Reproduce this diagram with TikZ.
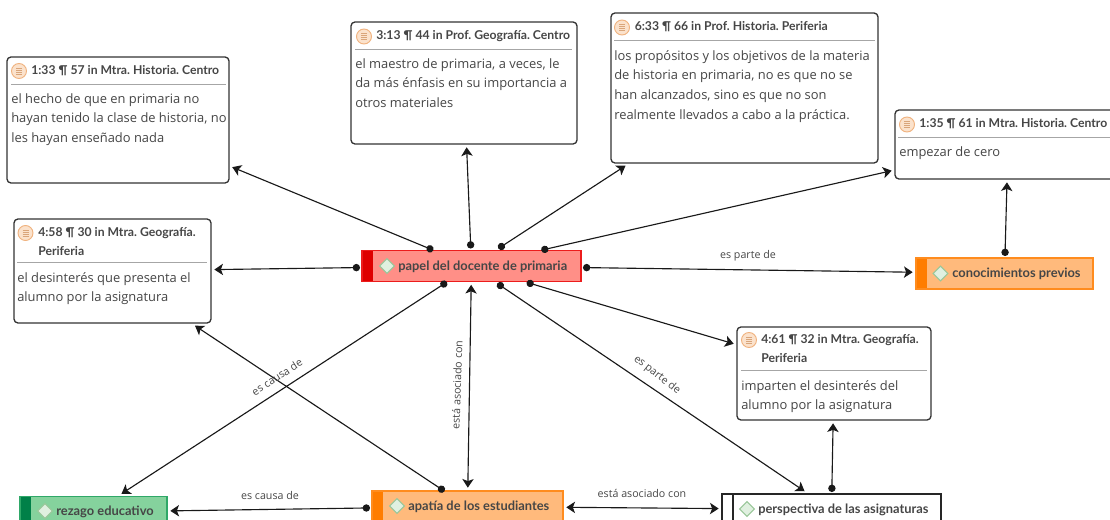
\documentclass[tikz,border=0pt]{standalone}
\usepackage{fontspec}
\setmainfont{Open Sans}
\newfontfamily\headfont{Lato}
\usepackage{tikz}
\usetikzlibrary{arrows.meta, shapes.geometric}

\definecolor{inkText}{HTML}{464646}
\definecolor{redFill}{HTML}{FF8F87}
\definecolor{redEdge}{HTML}{EC1C1C}
\definecolor{redBar}{HTML}{DE0000}
\definecolor{orangeFill}{HTML}{FFBA7C}
\definecolor{orangeEdge}{HTML}{FF8C1E}
\definecolor{orangeBar}{HTML}{FF7D00}
\definecolor{greenFill}{HTML}{85D29D}
\definecolor{greenEdge}{HTML}{2FA868}
\definecolor{greenBar}{HTML}{008048}
\definecolor{iconFill}{HTML}{FBE2CC}
\definecolor{iconEdge}{HTML}{F0B27E}
\definecolor{iconLine}{HTML}{D9A57A}

\def\px{0.75pt}

\tikzset{
    quotebox/.style={draw=black!80, line width=1pt, rounded corners=3pt, fill=white, outer sep=1.5pt},
    quotehead/.style={anchor=north west, inner sep=0pt, align=left, text=inkText,
        font=\frenchspacing\headfont\fontsize{9.15pt}{14.4pt}\selectfont\bfseries},
    quotebody/.style={anchor=north west, inner sep=0pt, align=left, text=inkText,
        font=\frenchspacing\fontsize{9.68pt}{14.8pt}\selectfont},
    headrule/.style={draw=black!35, line width=0.7pt},
    concept/.style n args={3}{draw=#2, fill=#1, line width=1pt, outer sep=1.5pt, minimum height=31*\px,
        path picture={\fill[#3] (path picture bounding box.north west) rectangle ([xshift=8pt]path picture bounding box.south west);}},
    conceptlabel/.style={anchor=west, inner sep=0pt, text=inkText, font=\headfont\fontsize{9.65pt}{11pt}\selectfont\bfseries},
    gem/.style={diamond, draw=green!45!black!40, fill=green!50!black!12, line width=0.8pt, inner sep=0pt, minimum size=11.5pt},
    link/.style={draw=black!90, line width=0.85pt, {Circle[length=5.5pt]}-{Stealth[length=6.5pt,width=8.5pt,inset=1.6pt]}, shorten >=1pt},
    linkboth/.style={draw=black!90, line width=0.85pt, {Stealth[length=6.5pt,width=8.5pt,inset=1.6pt]}-{Stealth[length=6.5pt,width=8.5pt,inset=1.6pt]}, shorten >=1pt, shorten <=1pt},
    linklabel/.style={inner sep=0pt, text=inkText, font=\fontsize{8pt}{9pt}\selectfont},
    docicon/.pic={
        \draw[draw=iconEdge, fill=iconFill, line width=0.7pt] (0,0) circle (7.5);
        \foreach \l in {-3,-1,1,3}
            \draw[draw=iconLine, line width=0.5pt] (-3,\l) -- (3,\l);
    }
}

\begin{document}
\begin{tikzpicture}[x=\px, y=-\px]

\clip (0,0) rectangle (1110,520);

%% Central code

\node[concept={redFill}{redEdge}{redBar}, minimum width=219*\px] (papel) at (471.5, 266) {};
\node[gem] (gemPapel) at (387, 266) {};
\node[conceptlabel] (txtPapel) at (398, 267) {papel del docente de primaria};

%% Quotation 1:33

\node[quotebox, minimum width=222*\px, minimum height=126*\px] (q133) at (118, 120) {};
\pic at (19, 71) {docicon};
\node[quotehead] (head133) at (31, 65) {1:33 ¶ 57 in Mtra. Historia. Centro};
\draw[headrule] (11, 84) -- (226, 84);
\node[quotebody] (body133) at (11, 93) {el hecho de que en primaria no\\hayan tenido la clase de historia, no\\les hayan enseñado nada};

%% Quotation 4:58

\node[quotebox, minimum width=197*\px, minimum height=104*\px] (q458) at (112.5, 271) {};
\pic at (25.5, 233) {docicon};
\node[quotehead] (head458) at (38, 227) {4:58 ¶ 30 in Mtra. Geografía.\\Periferia};
\draw[headrule] (17, 262) -- (207, 262);
\node[quotebody] (body458) at (17, 272) {el desinterés que presenta el\\alumno por la asignatura};

%% Quotation 3:13

\node[quotebox, minimum width=226*\px, minimum height=122*\px] (q313) at (464, 83) {};
\pic at (364, 36.5) {docicon};
\node[quotehead] (head313) at (376, 30.5) {3:13 ¶ 44 in Prof. Geografía. Centro};
\draw[headrule] (355, 49.5) -- (572, 49.5);
\node[quotebody] (body313) at (355, 58) {el maestro de primaria, a veces, le\\da más énfasis en su importancia a\\otros materiales};

%% Quotation 6:33

\node[quotebox, minimum width=267*\px, minimum height=150*\px] (q633) at (744.5, 88) {};
\pic at (622, 27.5) {docicon};
\node[quotehead] (head633) at (634.5, 21.5) {6:33 ¶ 66 in Prof. Historia. Periferia};
\draw[headrule] (614, 40.5) -- (875, 40.5);
\node[quotebody] (body633) at (614, 50) {los propósitos y los objetivos de la materia\\de historia en primaria, no es que no se\\han alcanzados, sino es que no son\\realmente llevados a cabo a la práctica.};

%% Quotation 1:35 (runs past the right edge)

\node[quotebox, minimum width=226*\px, minimum height=69*\px] (q135) at (1008, 144.5) {};
\pic at (907, 124.5) {docicon};
\node[quotehead] (head135) at (919, 118.5) {1:35 ¶ 61 in Mtra. Historia. Centro};
\draw[headrule] (898, 137.5) -- (1110, 137.5);
\node[quotebody] (body135) at (899, 146) {empezar de cero};

%% Quotation 4:61

\node[quotebox, minimum width=194*\px, minimum height=93*\px] (q461) at (834, 373.5) {};
\pic at (749, 340) {docicon};
\node[quotehead] (head461) at (761, 334) {4:61 ¶ 32 in Mtra. Geografía.\\Periferia};
\draw[headrule] (741, 370) -- (927, 370);
\node[quotebody] (body461) at (741, 380) {imparten el desinterés del\\alumno por la asignatura};

%% Codes around the centre

\node[concept={orangeFill}{orangeEdge}{orangeBar}, minimum width=177*\px] (conocimientos) at (1004.5, 273.5) {};
\node[gem] (gemConocimientos) at (940.5, 273.5) {};
\node[conceptlabel] (txtConocimientos) at (952, 274) {conocimientos previos};

\node[concept={greenFill}{greenEdge}{greenBar}, minimum width=147*\px] (rezago) at (93.5, 512) {};
\node[gem] (gemRezago) at (45, 511) {};
\node[conceptlabel] (txtRezago) at (56, 512) {rezago educativo};

\node[concept={orangeFill}{orangeEdge}{orangeBar}, minimum width=191*\px] (apatia) at (467.5, 506.5) {};
\node[gem] (gemApatia) at (397, 506) {};
\node[conceptlabel] (txtApatia) at (408, 507) {apatía de los estudiantes};

\node[concept={white}{black!85}{white}, minimum width=219*\px] (perspectiva) at (831.5, 509.5) {};
\draw[black!85, line width=1pt] (733, 494) -- (733, 520);
\node[gem] (gemPerspectiva) at (747, 509) {};
\node[conceptlabel] (txtPerspectiva) at (758, 510) {perspectiva de las asignaturas};

%% Links

\draw[link, shorten <=-3.4pt] (papel) -- (q133);
\draw[link] (papel) -- (q313);
\draw[link] (papel) -- (q633);
\draw[link, shorten <=-5.7pt] (papel) -- (q135);
\draw[link] (papel) -- (q458);
\draw[link, shorten <=-3pt] (papel) -- (q461);
\draw[link] (papel) -- (conocimientos);
\draw[link] (conocimientos) -- (q135);
\draw[link, shorten <=-2pt] (papel) -- (rezago);
\draw[link] (papel) -- (perspectiva);
\draw[link] (perspectiva) -- (q461);
\draw[link, shorten <=-3pt] (apatia) -- (q458);
\draw[link] (apatia) -- (rezago);
\draw[linkboth] (papel) -- (apatia);
\draw[linkboth] (apatia) -- (perspectiva);

%% Link labels

\node[linklabel] (lblParteA) at (748, 256) {es parte de};
\node[linklabel, rotate=33] (lblCausaA) at (277, 377) {es causa de};
\node[linklabel, rotate=88] (lblAsociadoA) at (457, 385) {está asociado con};
\node[linklabel, rotate=-38] (lblParteB) at (657, 375) {es parte de};
\node[linklabel] (lblCausaB) at (270, 495) {es causa de};
\node[linklabel] (lblAsociadoB) at (642, 493) {está asociado con};

\end{tikzpicture}
\end{document}
